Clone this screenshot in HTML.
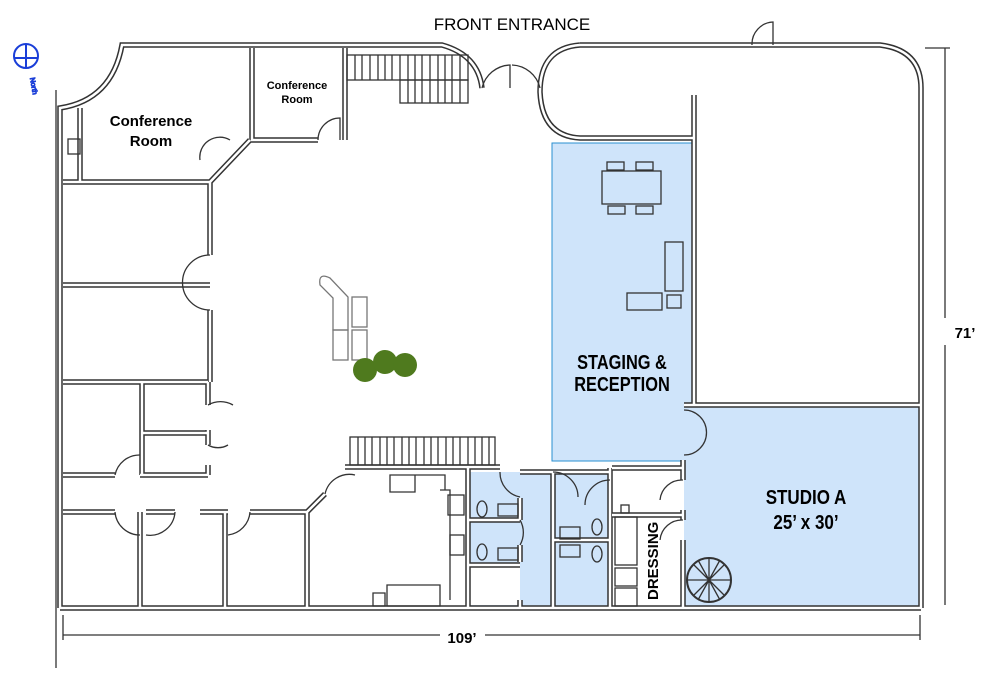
<!DOCTYPE html>
<html><head><style>
body{margin:0;background:#fff;width:1000px;height:676px;overflow:hidden}
svg{display:block}
text{font-family:"Liberation Sans",Arial,sans-serif}
</style></head><body>
<svg width="1000" height="676" viewBox="0 0 1000 676" xmlns="http://www.w3.org/2000/svg">
<defs>
<path id="w" fill="none" d="
M60 608 V108 Q112 100 122 45 H442 Q478 55 482 88
M580 45 H880 Q921 50 921 88 V608
M580 45 Q540 48 540 92 Q542 136 580 138 H694
M694 95 V405 M684 405 H921
M60 608 H921
M252 48 V140 H318 M345 48 V140
M80 108 V182 M63 182 H210 L250 140
M210 182 V255 M210 310 V382
M63 285 H210
M63 382 H208 M142 382 V475 M142 433 H208 M208 382 V405 M208 430 V445 M208 465 V475
M63 475 H115 M140 475 H208
M63 512 H115 M140 512 V607 M146 512 H175 M200 512 H228 M225 512 V607 M250 512 H307 M307 512 V607 M307 512 L325 494
M468 467 V607 M345 467 H500
M520 472 H553 M520 498 V520 M520 545 V562 M468 520 H520 M468 565 H520
M553 472 V607 M610 468 V607 M610 472 H553 M553 540 H610
M612 468 H683 M612 515 H683 M683 460 V480 M683 510 V520 M683 540 V607
M520 600 V607 M553 600 V607"/>
</defs>
<rect x="552" y="143" width="142" height="318" fill="#cfe4fa" stroke="#2a8fd0" stroke-width="1"/>
<rect x="684" y="406" width="236" height="200" fill="#cfe4fa"/>
<rect x="470" y="472" width="140" height="134" fill="#cfe4fa"/>
<rect x="470" y="565" width="50" height="40" fill="#fff"/>
<rect x="613" y="470" width="69" height="45" fill="#fff"/>
<use href="#w" stroke="#333" stroke-width="5.5"/>
<use href="#w" stroke="#fff" stroke-width="2.5"/>
<g stroke="#333" stroke-width="1.3" fill="none">
<path d="M56 90 V668"/>
<path d="M63 635 H440 M485 635 H920 M63 615 V640 M920 615 V640"/>
<path d="M925 48 H950 M945 48 V318 M945 345 V605"/>
<rect x="347" y="55" width="121" height="25"/><rect x="400" y="80" width="68" height="23"/>
<path d="M355 55V80M362 55V80M370 55V80M378 55V80M385 55V80M392 55V80M400 55V80M408 55V103M415 55V103M422 55V103M430 55V103M438 55V103M445 55V103M452 55V103M460 55V103"/>
<rect x="350" y="437" width="145" height="28"/>
<path d="M358 437V465M365 437V465M372 437V465M380 437V465M387 437V465M394 437V465M402 437V465M409 437V465M416 437V465M424 437V465M431 437V465M438 437V465M446 437V465M453 437V465M460 437V465M468 437V465M475 437V465M482 437V465M489 437V465"/>
<path d="M318 140 A22 22 0 0 1 340 118 V140"/>
<path d="M210 255 A27 27 0 0 0 210 310"/>
<path d="M208 405 A25 25 0 0 1 233 405 M208 445 A20 20 0 0 0 228 445"/>
<path d="M115 475 A25 25 0 0 1 140 455 M115 512 A25 25 0 0 0 140 535 M175 512 A25 25 0 0 1 146 535 M250 512 A25 25 0 0 1 228 535"/>
<path d="M230 140 A20 20 0 0 0 200 160 M325 494 A25 25 0 0 1 355 475"/>
<path d="M482 88 A30 30 0 0 1 510 65 V88 M540 88 A30 30 0 0 0 512 65"/>
<path d="M752 45 A22 22 0 0 1 773 22 V45"/>
<path d="M553 472 A25 25 0 0 1 578 497 M500 472 A25 25 0 0 0 520 497 M520 520 A25 25 0 0 1 520 545 M610 480 A25 25 0 0 0 585 505 M683 480 A22 22 0 0 0 660 500 M683 520 A22 22 0 0 0 660 540 M684 410 A22 22 0 0 1 684 455"/>
<path d="M390 475H415V492H390Z M415 475H445V490 M440 490H450V600 M387 585H440V606H387Z M373 593H385V606H373Z" />
<rect x="448" y="495" width="16" height="20"/><rect x="450" y="535" width="14" height="20"/>
<rect x="498" y="504" width="20" height="12"/><rect x="498" y="548" width="20" height="12"/>
<rect x="560" y="527" width="20" height="12"/><rect x="560" y="545" width="20" height="12"/>
<ellipse cx="482" cy="509" rx="5" ry="8"/><ellipse cx="482" cy="552" rx="5" ry="8"/>
<ellipse cx="597" cy="527" rx="5" ry="8"/><ellipse cx="597" cy="554" rx="5" ry="8"/>
<rect x="615" y="517" width="22" height="48"/><rect x="615" y="568" width="22" height="18"/><rect x="615" y="588" width="22" height="18"/>
<rect x="621" y="505" width="8" height="8"/><rect x="68" y="139" width="12" height="15"/>
<rect x="602" y="171" width="59" height="33"/><rect x="607" y="162" width="17" height="8"/><rect x="636" y="162" width="17" height="8"/>
<rect x="608" y="206" width="17" height="8"/><rect x="636" y="206" width="17" height="8"/>
<rect x="665" y="242" width="18" height="49"/><rect x="627" y="293" width="35" height="17"/><rect x="667" y="295" width="14" height="13"/>
<circle cx="709" cy="580" r="22" stroke-width="2"/>
<path d="M709 558V602M687 580H731M693 564L725 596M725 564L693 596M698 560L720 600M720 560L698 600"/>
<path d="M320 285 Q318 272 330 278 L348 297 V330 H333 V298 Z" stroke="#777"/>
<rect x="352" y="297" width="15" height="30" stroke="#777"/><rect x="333" y="330" width="15" height="30" stroke="#777"/><rect x="352" y="330" width="15" height="30" stroke="#777"/>
</g>
<g fill="#4f7a1e"><circle cx="365" cy="370" r="12"/><circle cx="385" cy="362" r="12"/><circle cx="405" cy="365" r="12"/></g>
<g fill="#1a3ed8" stroke="#1a3ed8"><circle cx="26" cy="56" r="12" fill="none" stroke-width="2"/><path d="M14 58H38M26 44V68" stroke-width="2"/><text x="30" y="78" font-size="7" transform="rotate(80 30 78)">North</text></g>
<g fill="#000" font-weight="bold">
<text x="512" y="30" font-size="17" font-weight="normal" text-anchor="middle">FRONT ENTRANCE</text>
<text x="151" y="126" font-size="15" text-anchor="middle">Conference</text>
<text x="151" y="146" font-size="15" text-anchor="middle">Room</text>
<text x="297" y="89" font-size="11" text-anchor="middle">Conference</text>
<text x="297" y="103" font-size="11" text-anchor="middle">Room</text>
<g transform="translate(622 0) scale(0.82 1)">
<text x="0" y="369" font-size="20" text-anchor="middle">STAGING &amp;</text>
<text x="0" y="391" font-size="20" text-anchor="middle">RECEPTION</text>
</g>
<g transform="translate(806 0) scale(0.85 1)">
<text x="0" y="504" font-size="20" text-anchor="middle">STUDIO A</text>
<text x="0" y="529" font-size="20" text-anchor="middle">25’ x 30’</text>
</g>
<text x="658" y="600" font-size="15" transform="rotate(-90 658 600)">DRESSING</text>
<text x="462" y="643" font-size="15" text-anchor="middle">109’</text>
<text x="965" y="338" font-size="15" text-anchor="middle">71’</text>
</g>
</svg>
</body></html>
